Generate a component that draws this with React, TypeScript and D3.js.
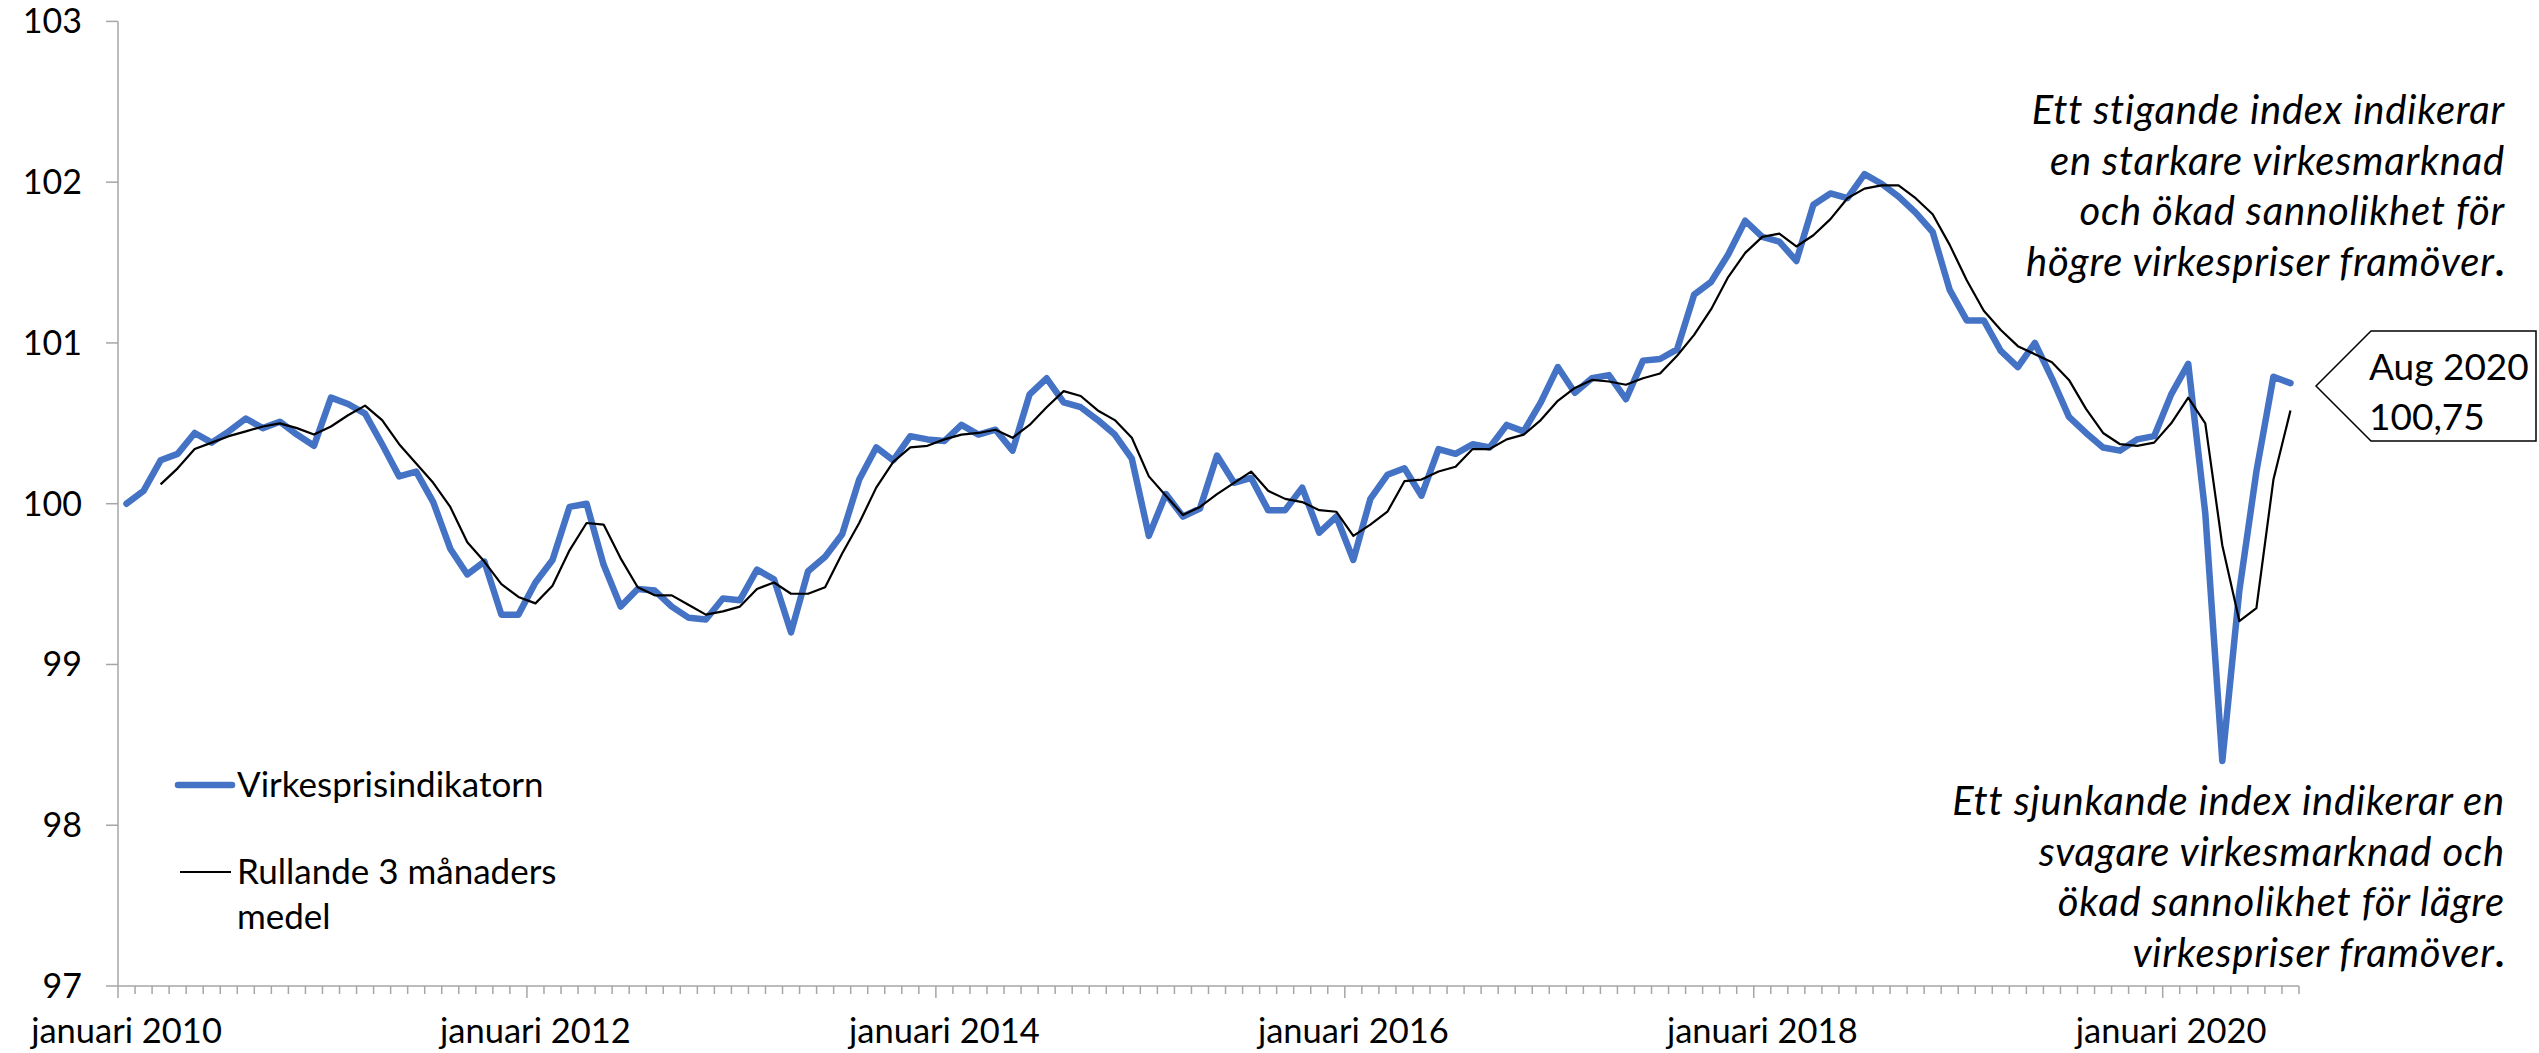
import React from 'react';
import * as d3 from 'd3';

// Monthly categories: januari 2010 – augusti 2020
const months: Date[] = d3.timeMonth.range(new Date(2010, 0, 1), new Date(2020, 8, 1));

// Virkesprisindikatorn (monthly values)
const virkesprisindikatorn: number[] = [
  // 2010
  100.00, 100.08, 100.27, 100.31, 100.44, 100.38, 100.45, 100.53, 100.47, 100.51, 100.43, 100.36,
  // 2011
  100.66, 100.62, 100.56, 100.37, 100.17, 100.20, 100.01, 99.72, 99.56, 99.64, 99.31, 99.31,
  // 2012
  99.51, 99.65, 99.98, 100.00, 99.62, 99.36, 99.47, 99.46, 99.36, 99.29, 99.28, 99.41,
  // 2013
  99.40, 99.59, 99.53, 99.20, 99.58, 99.67, 99.81, 100.15, 100.35, 100.27, 100.42, 100.40,
  // 2014
  100.39, 100.49, 100.43, 100.46, 100.33, 100.68, 100.78, 100.63, 100.60, 100.52, 100.43, 100.28,
  // 2015
  99.80, 100.06, 99.92, 99.97, 100.30, 100.13, 100.16, 99.96, 99.96, 100.10, 99.82, 99.92,
  // 2016
  99.65, 100.03, 100.18, 100.22, 100.05, 100.34, 100.31, 100.37, 100.35, 100.49, 100.45, 100.63,
  // 2017
  100.85, 100.69, 100.78, 100.80, 100.65, 100.89, 100.90, 100.96, 101.30, 101.38, 101.55, 101.76,
  // 2018
  101.66, 101.63, 101.51, 101.86, 101.93, 101.90, 102.05, 101.99, 101.91, 101.81, 101.69, 101.33,
  // 2019
  101.14, 101.14, 100.95, 100.85, 101.00, 100.78, 100.54, 100.44, 100.35, 100.33, 100.40, 100.42,
  // 2020
  100.68, 100.87, 99.94, 98.40, 99.46, 100.20, 100.79, 100.75,
];

// Rullande 3 månaders medel
const rullande3: (number | null)[] = [
  // 2010
  null, null, 100.12, 100.22, 100.34, 100.38, 100.42, 100.45, 100.48, 100.50, 100.47, 100.43,
  // 2011
  100.48, 100.55, 100.61, 100.52, 100.37, 100.25, 100.13, 99.98, 99.76, 99.64, 99.50, 99.42,
  // 2012
  99.38, 99.49, 99.71, 99.88, 99.87, 99.66, 99.48, 99.43, 99.43, 99.37, 99.31, 99.33,
  // 2013
  99.36, 99.47, 99.51, 99.44, 99.44, 99.48, 99.69, 99.88, 100.10, 100.26, 100.35, 100.36,
  // 2014
  100.40, 100.43, 100.44, 100.46, 100.41, 100.49, 100.60, 100.70, 100.67, 100.58, 100.52, 100.41,
  // 2015
  100.17, 100.05, 99.93, 99.98, 100.06, 100.13, 100.20, 100.08, 100.03, 100.01, 99.96, 99.95,
  // 2016
  99.80, 99.87, 99.95, 100.14, 100.15, 100.20, 100.23, 100.34, 100.34, 100.40, 100.43, 100.52,
  // 2017
  100.64, 100.72, 100.77, 100.76, 100.74, 100.78, 100.81, 100.92, 101.05, 101.21, 101.41, 101.56,
  // 2018
  101.66, 101.68, 101.60, 101.67, 101.77, 101.90, 101.96, 101.98, 101.98, 101.90, 101.80, 101.61,
  // 2019
  101.39, 101.20, 101.08, 100.98, 100.93, 100.88, 100.77, 100.59, 100.44, 100.37, 100.36, 100.38,
  // 2020
  100.50, 100.66, 100.50, 99.74, 99.27, 99.35, 100.15, 100.58,
];

const yTicks: number[] = [97, 98, 99, 100, 101, 102, 103];
const xTickLabels: string[] = [
  'januari 2010', 'januari 2012', 'januari 2014', 'januari 2016', 'januari 2018', 'januari 2020',
];
const legendLabels: string[] = ['Virkesprisindikatorn', 'Rullande 3 månaders', 'medel'];
const calloutLines: string[] = ['Aug 2020', '100,75'];
const topNote: string[] = [
  'Ett stigande index indikerar',
  'en starkare virkesmarknad',
  'och ökad sannolikhet för',
  'högre virkespriser framöver',
];
const bottomNote: string[] = [
  'Ett sjunkande index indikerar en',
  'svagare virkesmarknad och',
  'ökad sannolikhet för lägre',
  'virkespriser framöver',
];

const W = 2539;
const H = 1053;
const FONT = 'Lato, "Open Sans", sans-serif';
const BLUE = '#4472C4';
const AXIS = '#A6A6A6';

export default function App() {
  const x = d3.scaleBand<Date>().domain(months).range([118, 2299]).padding(0);
  const bw = x.bandwidth();
  const y = d3.scaleLinear().domain([97, 103]).range([986, 21.4]);

  const cx = (i: number) => (x(months[i]) as number) + bw / 2;

  const lineGen = d3
    .line<number | null>()
    .defined((d) => d != null)
    .x((_, i) => cx(i))
    .y((d) => y(d as number));

  const bluePath = lineGen(virkesprisindikatorn) || '';
  const blackPath = lineGen(rullande3) || '';

  const boundaries = months.map((m) => x(m) as number).concat([x.range()[1]]);
  const y0 = y(97);

  const noteSize = 40;
  const noteSpacing = 0.8;
  const noteX = 2505;

  return (
    <svg
      width={W}
      height={H}
      style={{ position: 'absolute', left: 0, top: 0, background: '#fff' }}
      fontFamily={FONT}
    >
      <rect x={0} y={0} width={W} height={H} fill="#fff" />

      {/* Y axis */}
      <line x1={118} x2={118} y1={y(103)} y2={y0} stroke={AXIS} strokeWidth={1.5} />
      {yTicks.map((t) => (
        <g key={t}>
          <line x1={106} x2={118} y1={y(t)} y2={y(t)} stroke={AXIS} strokeWidth={1.5} />
          <text x={82} y={y(t) + 12} textAnchor="end" fontSize={34} fill="#000">
            {t}
          </text>
        </g>
      ))}

      {/* X axis */}
      <line x1={118} x2={x.range()[1]} y1={y0} y2={y0} stroke={AXIS} strokeWidth={1.5} />
      {boundaries.map((bx, i) => (
        <line
          key={i}
          x1={bx}
          x2={bx}
          y1={y0}
          y2={y0 + (i % 24 === 0 && i < months.length ? 12 : 8)}
          stroke={AXIS}
          strokeWidth={1.5}
        />
      ))}
      {xTickLabels.map((lab, k) => (
        <text key={lab} x={cx(k * 24)} y={1043} textAnchor="middle" fontSize={34.5} fill="#000">
          {lab}
        </text>
      ))}

      {/* Series */}
      <path d={bluePath} fill="none" stroke={BLUE} strokeWidth={6.5} strokeLinejoin="round" strokeLinecap="round" />
      <path d={blackPath} fill="none" stroke="#000" strokeWidth={2.2} strokeLinejoin="round" />

      {/* Legend */}
      <line x1={178} x2={232} y1={785} y2={785} stroke={BLUE} strokeWidth={6.5} strokeLinecap="round" />
      <text x={237} y={797} fontSize={35} fill="#000">{legendLabels[0]}</text>
      <line x1={180} x2={231} y1={872} y2={872} stroke="#000" strokeWidth={2.2} />
      <text x={237} y={884} fontSize={35} fill="#000">{legendLabels[1]}</text>
      <text x={237} y={929} fontSize={35} fill="#000">{legendLabels[2]}</text>

      {/* Top note */}
      {topNote.map((l, i) => (
        <text
          key={l}
          x={noteX}
          y={124 + i * 50.5}
          textAnchor="end"
          fontSize={noteSize}
          letterSpacing={noteSpacing}
          fontStyle="italic"
          fill="#000"
        >
          {l}
          {i === topNote.length - 1 ? <tspan fontStyle="normal" fontWeight="bold">.</tspan> : null}
        </text>
      ))}

      {/* Bottom note */}
      {bottomNote.map((l, i) => (
        <text
          key={l}
          x={noteX}
          y={815 + i * 50.7}
          textAnchor="end"
          fontSize={noteSize}
          letterSpacing={noteSpacing}
          fontStyle="italic"
          fill="#000"
        >
          {l}
          {i === bottomNote.length - 1 ? <tspan fontStyle="normal" fontWeight="bold">.</tspan> : null}
        </text>
      ))}

      {/* Callout */}
      <polygon
        points="2316,386 2371,331 2536,331 2536,441 2371,441"
        fill="#fff"
        stroke="#000"
        strokeWidth={1.5}
      />
      <text x={2369} y={380} fontSize={37} fill="#000">{calloutLines[0]}</text>
      <text x={2369} y={430} fontSize={37} fill="#000">{calloutLines[1]}</text>
    </svg>
  );
}
